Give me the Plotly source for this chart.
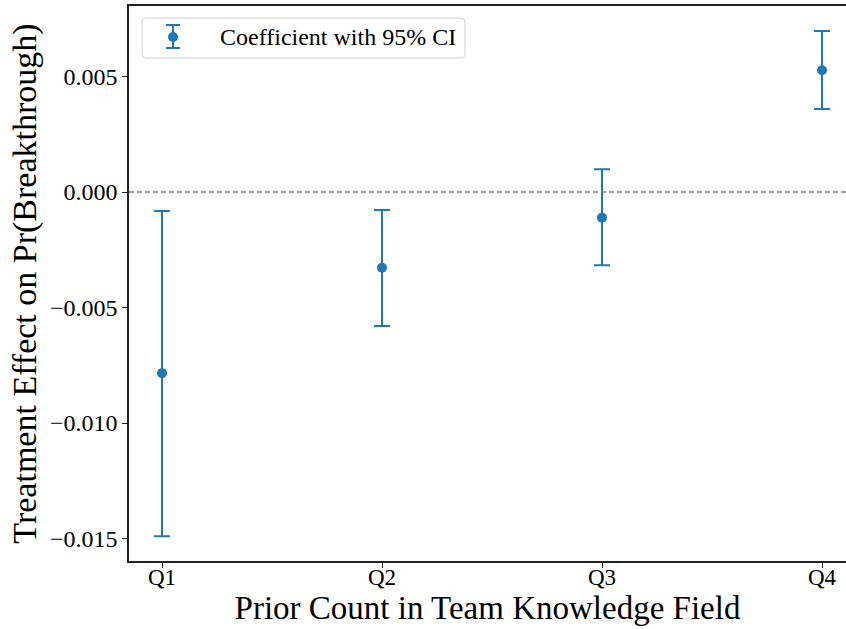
import plotly.graph_objects as go

categories = ["Q1", "Q2", "Q3", "Q4"]
coef = [-0.00784, -0.00328, -0.00111, 0.00527]
ci_upper = [-0.00082, -0.00078, 0.00098, 0.00697]
ci_lower = [-0.01490, -0.00580, -0.00317, 0.00359]
y_ticks = [-0.015, -0.010, -0.005, 0.000, 0.005]
legend_label = "Coefficient with 95% CI"

err_plus = [u - c for u, c in zip(ci_upper, coef)]
err_minus = [c - l for c, l in zip(coef, ci_lower)]

BLUE = "#1f77b4"
FONT = "Liberation Serif, Times New Roman, serif"

W, H = 846, 629
ML, MR, MT, MB = 129, 0, 6, 68
PW, PH = W - ML - MR, H - MT - MB


def px(x):
    return (x - ML) / PW


def py(y):
    return 1 - (y - MT) / PH


fig = go.Figure()
fig.add_trace(go.Scatter(
    x=categories, y=coef, mode="markers",
    name=legend_label, showlegend=False,
    marker=dict(color=BLUE, size=10),
    error_y=dict(type="data", symmetric=False, array=err_plus, arrayminus=err_minus,
                 color=BLUE, thickness=2, width=8),
))
fig.add_hline(y=0, line=dict(color="#808080", width=1.5, dash="5px,3px"))

# custom legend (matplotlib-like rounded frame with an errorbar glyph)
bx0, bx1, by0, by1, r = 142, 465, 18, 58, 4
rx, ry = r / PW, r / PH
X0, X1, Y0, Y1 = px(bx0), px(bx1), py(by1), py(by0)
path = (f"M {X0+rx},{Y1} L {X1-rx},{Y1} Q {X1},{Y1} {X1},{Y1-ry} "
        f"L {X1},{Y0+ry} Q {X1},{Y0} {X1-rx},{Y0} L {X0+rx},{Y0} "
        f"Q {X0},{Y0} {X0},{Y0+ry} L {X0},{Y1-ry} Q {X0},{Y1} {X0+rx},{Y1} Z")
fig.add_shape(type="path", path=path, xref="paper", yref="paper",
              line=dict(color="#d0d0d0", width=1), fillcolor="rgba(255,255,255,0.8)")
ix, itop, ibot, icy = 173, 25, 48, 37
fig.add_shape(type="line", xref="paper", yref="paper", x0=px(ix), x1=px(ix), y0=py(ibot), y1=py(itop),
              line=dict(color=BLUE, width=2))
for yy in (itop, ibot):
    fig.add_shape(type="line", xref="paper", yref="paper", x0=px(ix - 7), x1=px(ix + 7), y0=py(yy), y1=py(yy),
                  line=dict(color=BLUE, width=2))
fig.add_shape(type="circle", xref="paper", yref="paper", x0=px(ix - 5), x1=px(ix + 5), y0=py(icy + 5), y1=py(icy - 5),
              line=dict(color=BLUE, width=0), fillcolor=BLUE)
fig.add_annotation(text=legend_label, xref="paper", yref="paper", x=px(218), y=py(icy),
                   xanchor="left", yanchor="middle", showarrow=False,
                   font=dict(size=24, family=FONT, color="black"))

fig.update_layout(
    width=W, height=H,
    margin=dict(l=ML, r=MR, t=MT, b=MB, autoexpand=False),
    paper_bgcolor="white", plot_bgcolor="white",
    font=dict(family=FONT, color="black", size=24),
    showlegend=False,
)
fig.update_xaxes(
    type="category", range=[-0.15, 3.109],
    showline=True, linecolor="#222222", linewidth=1.5, mirror=True,
    ticks="outside", ticklen=5, tickcolor="#222222", tickwidth=1.2,
    tickfont=dict(size=23, family=FONT), ticklabelstandoff=-10,
    showgrid=False, zeroline=False,
    title=dict(text="Prior Count in Team Knowledge Field", font=dict(size=33, family=FONT), standoff=7),
)
fig.update_yaxes(
    range=[-0.01597, 0.00805],
    tickvals=y_ticks, tickformat=".3f",
    showline=True, linecolor="#222222", linewidth=1.5, mirror=False,
    ticks="outside", ticklen=5, tickcolor="#222222", tickwidth=1.2,
    tickfont=dict(size=24, family=FONT),
    showgrid=False, zeroline=False,
    title=dict(text="Treatment Effect on Pr(Breakthrough)", font=dict(size=34, family=FONT), standoff=3),
)

fig.write_html("out.html", config={"displayModeBar": False},
               post_script="document.body.style.margin='0';document.body.style.overflow='hidden';")
